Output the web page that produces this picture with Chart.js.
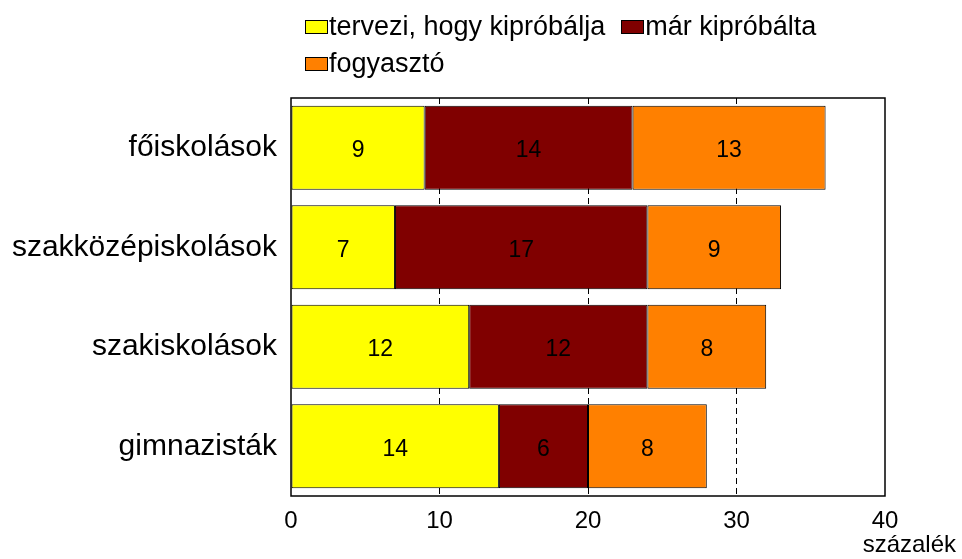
<!DOCTYPE html>
<html>
<head>
<meta charset="utf-8">
<script src="https://cdn.jsdelivr.net/npm/chart.js@4"></script>
<style>
  body { margin: 0; background: #fff; font-family: "Liberation Sans", Arial, sans-serif; }
  #wrap { position: relative; width: 962px; height: 559px; }
  #legend { position: absolute; left: 305px; top: 8px; width: 560px; font-size: 27px; color: #000; display: flex; flex-wrap: wrap; }
  .item { display: inline-flex; align-items: center; margin-right: 16px; height: 37px; }
  .box { width: 21px; height: 12px; border: 1.5px solid #000; margin-right: 1px; }
</style>
</head>
<body>
<div id="wrap">
  <canvas id="chart" width="962" height="559"></canvas>
  <div id="legend"></div>
</div>
<script>
const categories = ['főiskolások', 'szakközépiskolások', 'szakiskolások', 'gimnazisták'];
const seriesNames = ['tervezi, hogy kipróbálja', 'már kipróbálta', 'fogyasztó'];
const planning = [9, 7, 12, 14];
const tried = [14, 17, 12, 6];
const consumer = [13, 9, 8, 8];
const colors = ['#FFFF00', '#800000', '#FF8000'];
const xTicks = [0, 10, 20, 30, 40];

const seriesData = [planning, tried, consumer];
const FONT = '"Liberation Sans", Arial, sans-serif';

// legend as plain html, two rows like the original
document.getElementById('legend').innerHTML = seriesNames.map((name, i) => `
  <span class="item"><span class="box" style="background:${colors[i]}"></span>${name}</span>
`).join('');

const barLabels = {
  id: 'barLabels',
  afterDatasetsDraw(chart) {
    const ctx = chart.ctx;
    ctx.save();
    ctx.font = '23px ' + FONT;
    ctx.fillStyle = '#000';
    ctx.textAlign = 'center';
    ctx.textBaseline = 'middle';
    chart.data.datasets.forEach((ds, i) => {
      chart.getDatasetMeta(i).data.forEach((bar, j) => {
        const x = (bar.x + bar.base) / 2;
        ctx.fillText(String(ds.data[j]), x, bar.y + 3);
      });
    });
    ctx.restore();
  },
  afterDraw(chart) {
    const ctx = chart.ctx;
    const a = chart.chartArea;
    ctx.save();
    ctx.strokeStyle = '#000';
    ctx.lineWidth = 1.5;
    ctx.strokeRect(a.left, a.top, a.right - a.left, a.bottom - a.top);
    ctx.font = '24px ' + FONT;
    ctx.fillStyle = '#000';
    ctx.textAlign = 'right';
    ctx.textBaseline = 'middle';
    ctx.fillText('százalék', 956, 545);
    ctx.restore();
  }
};

new Chart(document.getElementById('chart'), {
  type: 'bar',
  data: {
    labels: categories,
    datasets: seriesNames.map((name, i) => ({
      label: name,
      data: seriesData[i],
      backgroundColor: colors[i],
      borderColor: '#000',
      borderWidth: 1,
      borderSkipped: false,
      barPercentage: 0.845,
      categoryPercentage: 1
    }))
  },
  options: {
    indexAxis: 'y',
    responsive: false,
    animation: false,
    layout: { padding: { top: 98, right: 77, left: 0, bottom: 0 } },
    plugins: {
      legend: { display: false },
      tooltip: { enabled: false }
    },
    scales: {
      x: {
        stacked: true,
        min: 0,
        max: 40,
        afterBuildTicks: axis => { axis.ticks = xTicks.map(v => ({ value: v })); },
        afterFit: axis => { axis.height = 63; },
        grid: {
          color: ctx => (ctx.tick && ctx.tick.value > 0 && ctx.tick.value < 40) ? '#000' : 'rgba(0,0,0,0)',
          lineWidth: 1,
          drawTicks: false
        },
        border: { display: false, dash: [6, 4] },
        ticks: {
          color: '#000',
          padding: 11,
          font: { family: FONT, size: 24 }
        }
      },
      y: {
        stacked: true,
        afterFit: axis => { axis.width = 291; },
        grid: { display: false, drawTicks: false },
        border: { display: false },
        ticks: {
          color: '#000',
          padding: 14,
          font: { family: FONT, size: 30 }
        }
      }
    }
  },
  plugins: [barLabels]
});
</script>
</body>
</html>
